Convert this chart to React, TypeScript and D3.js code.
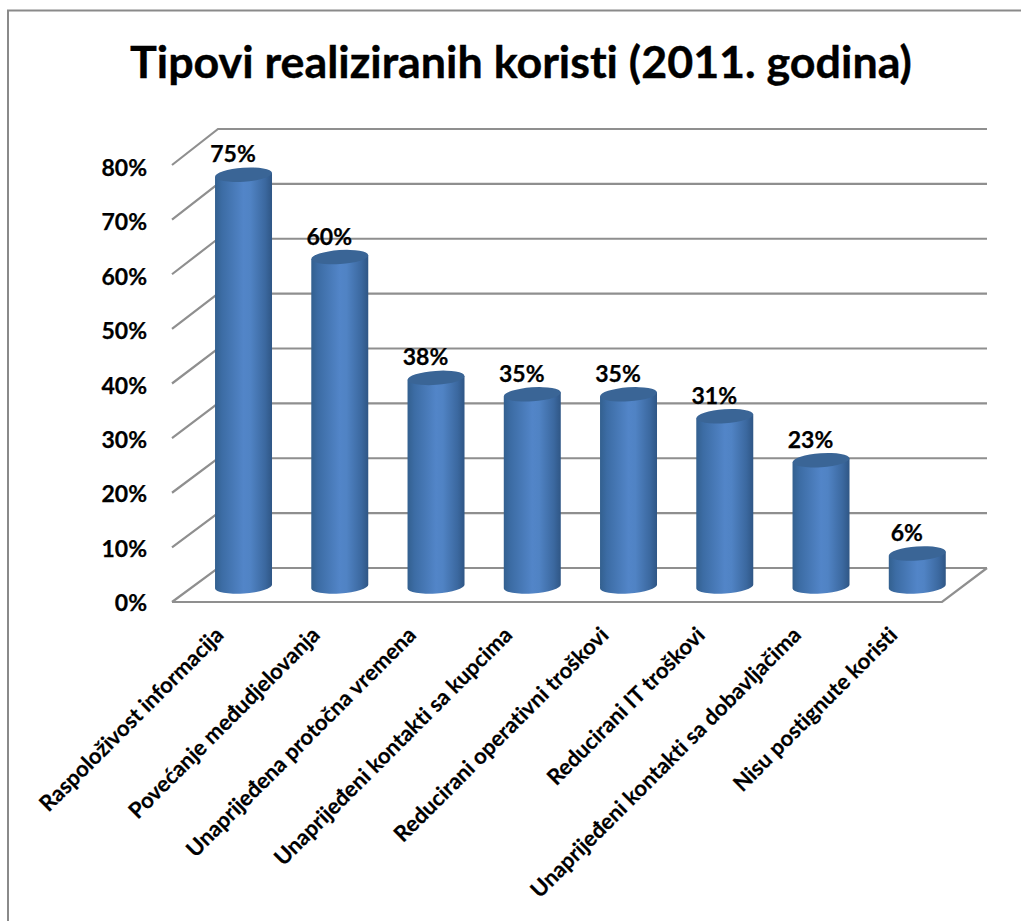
import React from "react";
import * as d3 from "d3";

const titleText = "Tipovi realiziranih koristi (2011. godina)";
const categories = [
  "Raspoloživost informacija",
  "Povećanje međudjelovanja",
  "Unaprijeđena protočna vremena",
  "Unaprijeđeni kontakti sa kupcima",
  "Reducirani operativni troškovi",
  "Reducirani IT troškovi",
  "Unaprijeđeni kontakti sa dobavljačima",
  "Nisu postignute koristi",
];
const values = [75, 60, 38, 35, 35, 31, 23, 6];
const tickValues = [0, 10, 20, 30, 40, 50, 60, 70, 80];

const FONT = "Lato, Carlito, sans-serif";
const GRID = "#8f8f8f";

export default function App() {
  const yBack = d3.scaleLinear().domain([0, 80]).range([568, 129]);
  const yFront = d3.scaleLinear().domain([0, 80]).range([602, 165]);
  const yTick = d3.scaleLinear().domain([0, 80]).range([603, 168]);
  const yBar = d3.scaleLinear().domain([0, 80]).range([586.5, 147.3]);
  const x = d3.scaleBand<string>().domain(categories).range([195.4, 965.4]).paddingInner(0.408).paddingOuter(0.204);
  const bw = x.bandwidth();
  const rx = bw / 2;
  const ry = 7;
  const tilt = 4;
  const dy = rx * Math.sin((tilt * Math.PI) / 180);

  return (
    <svg width={1021} height={921} style={{ position: "absolute", left: 0, top: 0, background: "#fff", fontVariantLigatures: "none" }} fontFamily={FONT}>
      <defs>
        <linearGradient id="cyl" x1="0" x2="1" y1="0" y2="0">
          <stop offset="0" stopColor="#33608f" />
          <stop offset="0.12" stopColor="#3c6ca4" />
          <stop offset="0.5" stopColor="#5285c8" />
          <stop offset="0.62" stopColor="#5083c4" />
          <stop offset="0.88" stopColor="#3b689f" />
          <stop offset="1" stopColor="#2f5685" />
        </linearGradient>
      </defs>
      <path d="M1021,10.5 H8 V921" fill="none" stroke="#8a8a8a" strokeWidth={2} />
      <text x={521} y={78} textAnchor="middle" fontSize={44.8} fontWeight={700} fill="#000" stroke="#000" strokeWidth={0.4}>{titleText}</text>

      {tickValues.map((t) => (
        <g key={t} fill="none" stroke={GRID} strokeWidth={2.2}>
          <path d={`M${172},${yFront(t)} L218,${yBack(t)} H987`} strokeLinejoin="miter" />
        </g>
      ))}
      <path d={`M172,${yFront(0)} H942 L987,${yBack(0)}`} fill="none" stroke={GRID} strokeWidth={2.2} />

      {tickValues.map((t) => (
        <text key={t} x={147} y={yTick(t)} dy="0.35em" textAnchor="end" fontSize={23} fontWeight={700} fill="#000" stroke="#000" strokeWidth={0.25}>{t}%</text>
      ))}

      {categories.map((c, i) => {
        const x0 = x(c)!;
        const x1 = x0 + bw;
        const yb = yBar(0);
        const yt = yBar(values[i]);
        const cx = x0 + rx;
        return (
          <g key={c}>
            <path
              d={`M${x0},${yt + dy} L${x0},${yb + dy} A${rx},${ry} ${-tilt} 0 0 ${x1},${yb - dy} L${x1},${yt - dy} Z`}
              fill="url(#cyl)"
            />
            <ellipse cx={cx} cy={yt} rx={rx} ry={ry} transform={`rotate(${-tilt} ${cx} ${yt})`} fill="#3a6596" />
            <text x={cx - 10.5} y={yt - 20.5} dy="0.35em" textAnchor="middle" fontSize={23} fontWeight={700} fill="#000" stroke="#000" strokeWidth={0.25}>{values[i]}%</text>
            <text transform={`translate(${cx - 24},${631}) rotate(-45)`} textAnchor="end" dy="0.35em" fontSize={22} fontWeight={700} fill="#000" stroke="#000" strokeWidth={0.2}>{c}</text>
          </g>
        );
      })}
    </svg>
  );
}
